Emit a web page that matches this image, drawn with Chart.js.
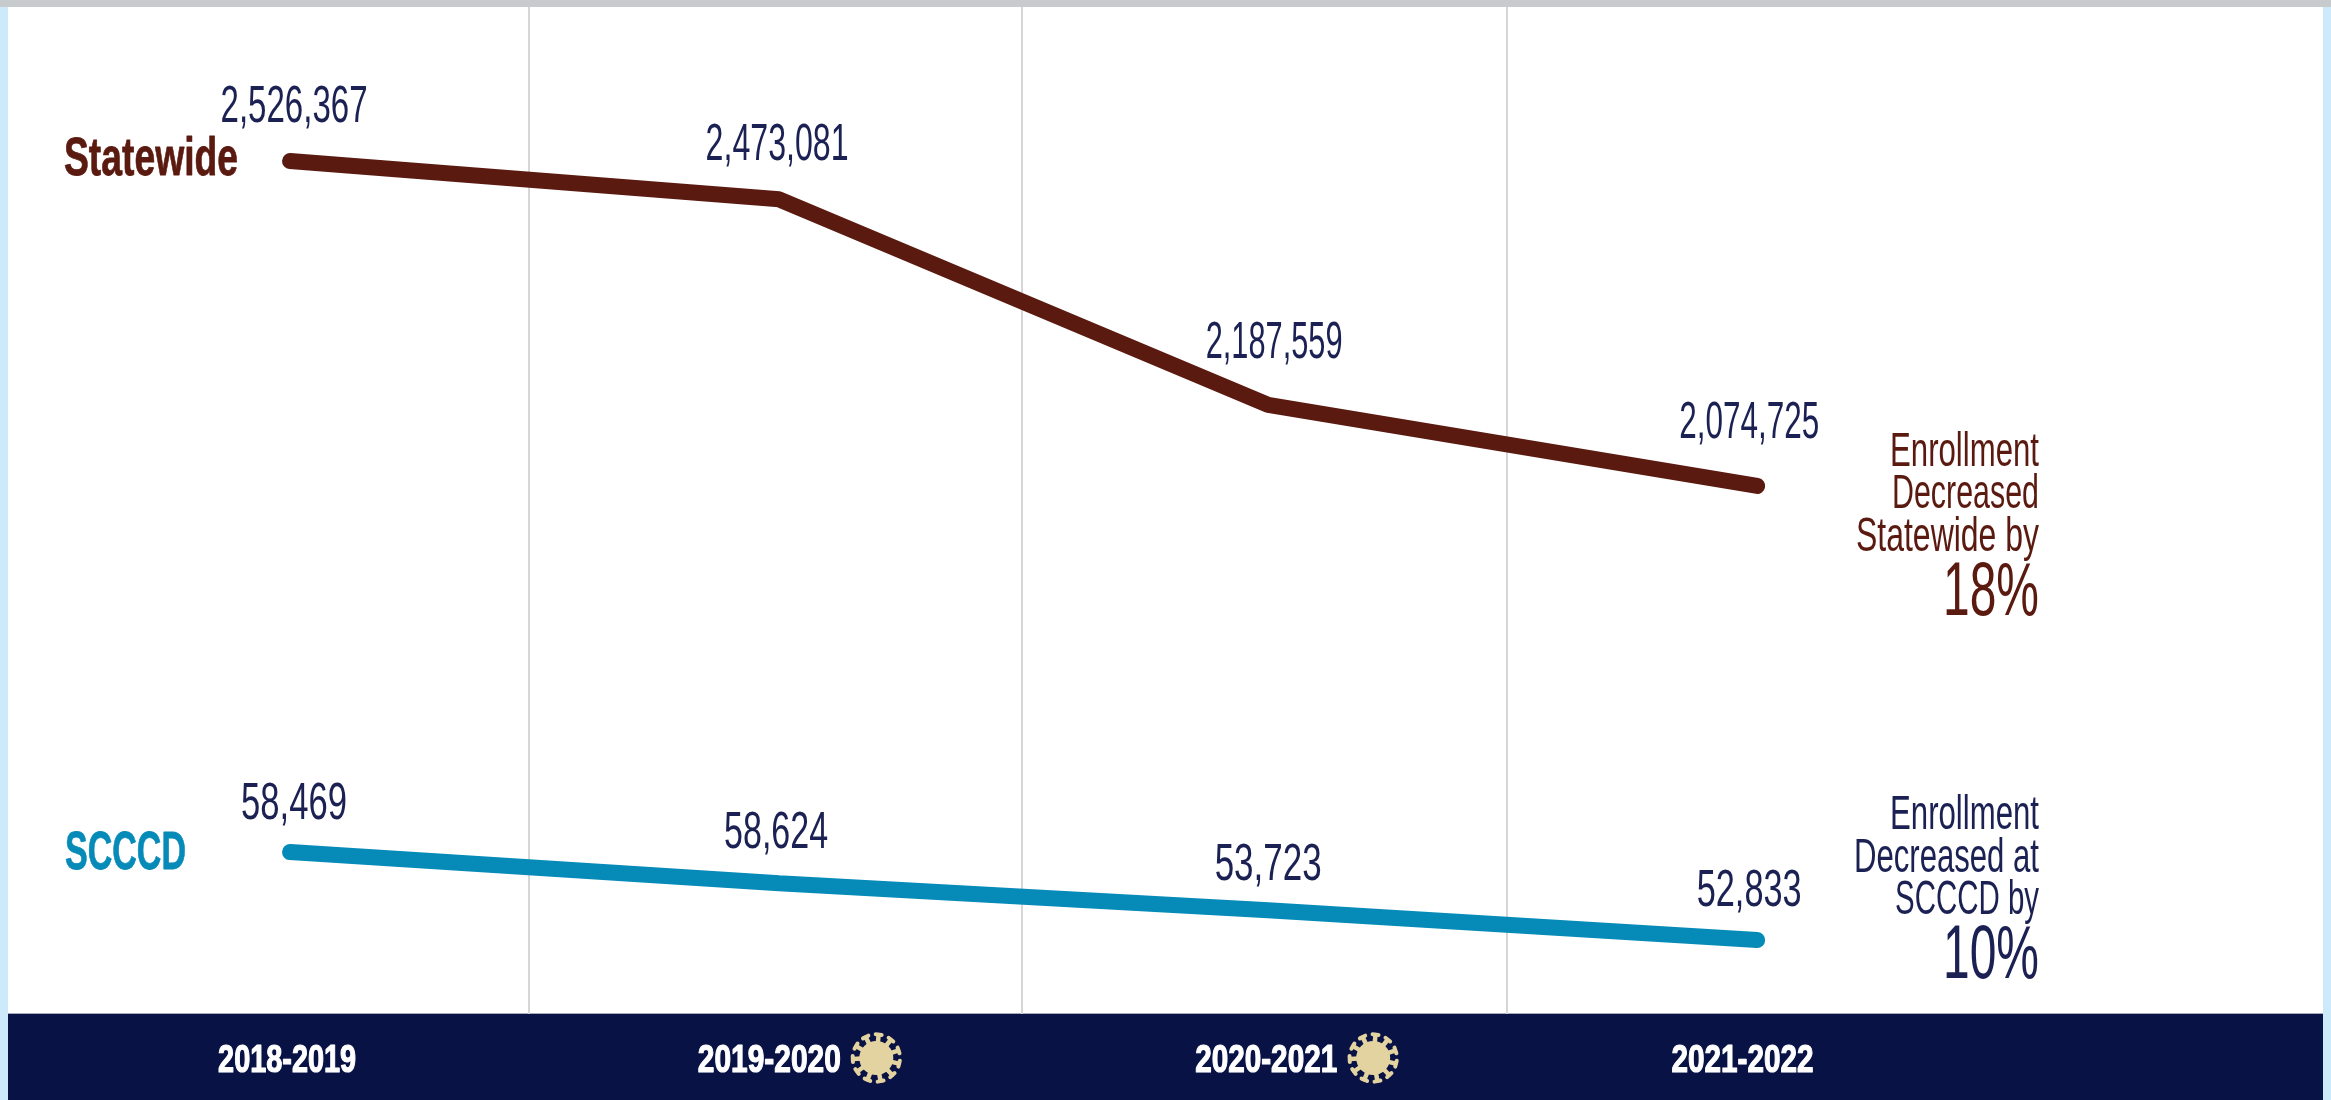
<!DOCTYPE html>
<html>
<head>
<meta charset="utf-8">
<title>Enrollment</title>
<script src="https://cdn.jsdelivr.net/npm/chart.js@4"></script>
<style>
    html, body { margin: 0; padding: 0; background: #cdeafa; overflow: hidden; }
    canvas { display: block; }
</style>
</head>
<body>
<canvas id="enrollmentChart" width="2331" height="1100"></canvas>
<script>
// Chart data
const years = ['2018-2019', '2019-2020', '2020-2021', '2021-2022'];
const covidYears = ['2019-2020', '2020-2021'];
const statewideValues = [2526367, 2473081, 2187559, 2074725];
const scccdValues = [58469, 58624, 53723, 52833];
// The SCCCD line in the picture does not follow its printed numbers (it falls
// where 58,624 would rise), so the drawn heights are read off the line itself
const scccdLineLevels = [58469, 56480, 54750, 52833];

const statewideNote = ['Enrollment', 'Decreased', 'Statewide by'];
const statewideChange = '18%';
const scccdNote = ['Enrollment', 'Decreased at', 'SCCCD by'];
const scccdChange = '10%';

// Colors
const maroon = '#5a1a10';
const teal = '#068ab8';
const navy = '#081245';
const labelNavy = '#1b2152';
const sand = '#e3d3a0';

// The source's year labels and gridlines are not centered on the points
const labelTicks = [-0.006, 0.98, 1.996, 2.97];
const gridTicks = [0.489, 1.497, 2.488];

const narrowFont = '"Liberation Sans", sans-serif';

// Draw text squeezed to a given width, the original face is very condensed
function drawFitted(ctx, text, x, y, size, width, color, weight, align, thicken) {
    ctx.save();
    ctx.font = `${weight} ${size}px ${narrowFont}`;
    ctx.fillStyle = color;
    ctx.textBaseline = 'alphabetic';
    ctx.textAlign = 'left';
    const natural = ctx.measureText(text).width;
    const sx = width / natural;
    let left = x - width / 2;
    if (align === 'right') left = x - width;
    if (align === 'left') left = x;
    ctx.translate(left, y);
    ctx.scale(sx, 1);
    ctx.fillText(text, 0, 0);
    if (thicken) {
        ctx.strokeStyle = color;
        ctx.lineWidth = thicken;
        ctx.lineJoin = 'round';
        ctx.strokeText(text, 0, 0);
    }
    ctx.restore();
}

// Virus icon next to the covid years
function drawVirus(ctx, cx, cy) {
    ctx.save();
    ctx.fillStyle = sand;
    ctx.strokeStyle = sand;
    ctx.lineCap = 'round';
    ctx.beginPath();
    ctx.arc(cx, cy, 17, 0, Math.PI * 2);
    ctx.fill();
    const spikes = 11;
    for (let i = 0; i < spikes; i++) {
        const a = (14 + i * 360 / spikes) * Math.PI / 180;
        const cos = Math.cos(a);
        const sin = Math.sin(a);
        ctx.lineWidth = 4.5;
        ctx.beginPath();
        ctx.moveTo(cx + cos * 15, cy + sin * 15);
        ctx.lineTo(cx + cos * 23, cy + sin * 23);
        ctx.stroke();
        ctx.lineWidth = 4;
        ctx.beginPath();
        ctx.moveTo(cx + cos * 23.5 - sin * 3, cy + sin * 23.5 + cos * 3);
        ctx.lineTo(cx + cos * 23.5 + sin * 3, cy + sin * 23.5 - cos * 3);
        ctx.stroke();
    }
    ctx.restore();
}

const backgroundPlugin = {
    id: 'background',
    beforeDraw(chart) {
        const { ctx, chartArea, width, height } = chart;
        ctx.save();
        ctx.fillStyle = '#ffffff';
        ctx.fillRect(chartArea.left, 0, chartArea.width, height);
        ctx.fillStyle = '#c8cbce';
        ctx.fillRect(0, 0, width, chartArea.top);
        ctx.fillStyle = navy;
        ctx.fillRect(chartArea.left, chartArea.bottom, chartArea.width, height - chartArea.bottom);
        ctx.fillStyle = '#a9a8bd';
        ctx.fillRect(chartArea.left, chartArea.bottom - 1, chartArea.width, 1);
        ctx.restore();
    }
};

const textPlugin = {
    id: 'textLabels',
    afterDraw(chart) {
        const { ctx, scales } = chart;
        const x = scales.x;

        // Value labels, nudged per point like the original
        const stateNudge = [[4, -39], [-2, -39], [6, -47], [-8, -48]];
        const stateWidths = [147, 143, 137, 140];
        statewideValues.forEach((v, i) => {
            const px = x.getPixelForValue(i) + stateNudge[i][0];
            const py = scales.yState.getPixelForValue(v) + stateNudge[i][1];
            drawFitted(ctx, v.toLocaleString('en-US'), px, py, 52, stateWidths[i], labelNavy, 'normal');
        });
        const scccdNudge = [[4, -33], [-3, -35], [0, -30], [-8, -34]];
        const scccdWidths = [106, 104, 107, 105];
        scccdValues.forEach((v, i) => {
            const px = x.getPixelForValue(i) + scccdNudge[i][0];
            const py = scales.yScccd.getPixelForValue(scccdLineLevels[i]) + scccdNudge[i][1];
            drawFitted(ctx, v.toLocaleString('en-US'), px, py, 52, scccdWidths[i], labelNavy, 'normal');
        });

        // Series names
        drawFitted(ctx, 'Statewide', 64, 175, 54, 174, maroon, 'bold', 'left', 0.8);
        drawFitted(ctx, 'SCCCD', 65, 869, 53, 121, teal, 'bold', 'left', 0.8);

        // Notes on the right
        const noteRight = 2039;
        const stateLines = [[466, 149], [508, 147], [551, 183]];
        statewideNote.forEach((line, i) => {
            drawFitted(ctx, line, noteRight, stateLines[i][0], 48, stateLines[i][1], maroon, 'normal', 'right');
        });
        drawFitted(ctx, statewideChange, noteRight, 615, 76, 96, maroon, 'normal', 'right');

        const scccdLines = [[829, 149], [872, 185], [914, 144]];
        scccdNote.forEach((line, i) => {
            drawFitted(ctx, line, noteRight, scccdLines[i][0], 48, scccdLines[i][1], labelNavy, 'normal', 'right');
        });
        drawFitted(ctx, scccdChange, noteRight, 978, 76, 96, labelNavy, 'normal', 'right');

        // Year labels on the band, the axis font cannot be squeezed
        const labelWidths = [138, 143, 142, 142];
        years.forEach((year, i) => {
            const px = x.getPixelForValue(labelTicks[i]);
            drawFitted(ctx, year, px, 1072, 38, labelWidths[i], '#ffffff', 'bold', 'center', 1.2);
        });

        // Virus icons next to the covid years
        covidYears.forEach(year => {
            const px = x.getPixelForValue(labelTicks[years.indexOf(year)]);
            drawVirus(ctx, px + 107, 1058);
        });
    }
};

const enrollmentChart = new Chart(document.getElementById('enrollmentChart'), {
    type: 'line',
    data: {
        datasets: [
            {
                label: 'Statewide',
                data: statewideValues.map((v, i) => ({ x: i, y: v })),
                yAxisID: 'yState',
                borderColor: maroon
            },
            {
                label: 'SCCCD',
                data: scccdLineLevels.map((v, i) => ({ x: i, y: v })),
                yAxisID: 'yScccd',
                borderColor: teal
            }
        ].map(ds => ({
            ...ds,
            borderWidth: 16,
            borderCapStyle: 'round',
            borderJoinStyle: 'bevel',
            pointRadius: 0,
            tension: 0,
            fill: false
        }))
    },
    options: {
        responsive: false,
        animation: false,
        layout: { padding: { top: 7, left: 8, right: 8, bottom: 0 } },
        plugins: {
            legend: { display: false },
            tooltip: { enabled: false }
        },
        scales: {
            x: {
                type: 'linear',
                min: -0.5767,
                max: 4.157,
                afterFit(scale) {
                    scale.height = 86;
                },
                afterBuildTicks(scale) {
                    scale.ticks = gridTicks.map(value => ({ value }));
                },
                border: { display: false },
                grid: {
                    drawTicks: false,
                    lineWidth: 2,
                    color: '#d6d6d6'
                },
                ticks: { display: false }
            },
            yState: { type: 'linear', display: false, min: 1340900, max: 2740400 },
            yScccd: { type: 'linear', display: false, min: 48100, max: 112590 }
        }
    },
    plugins: [backgroundPlugin, textPlugin]
});
</script>
</body>
</html>
